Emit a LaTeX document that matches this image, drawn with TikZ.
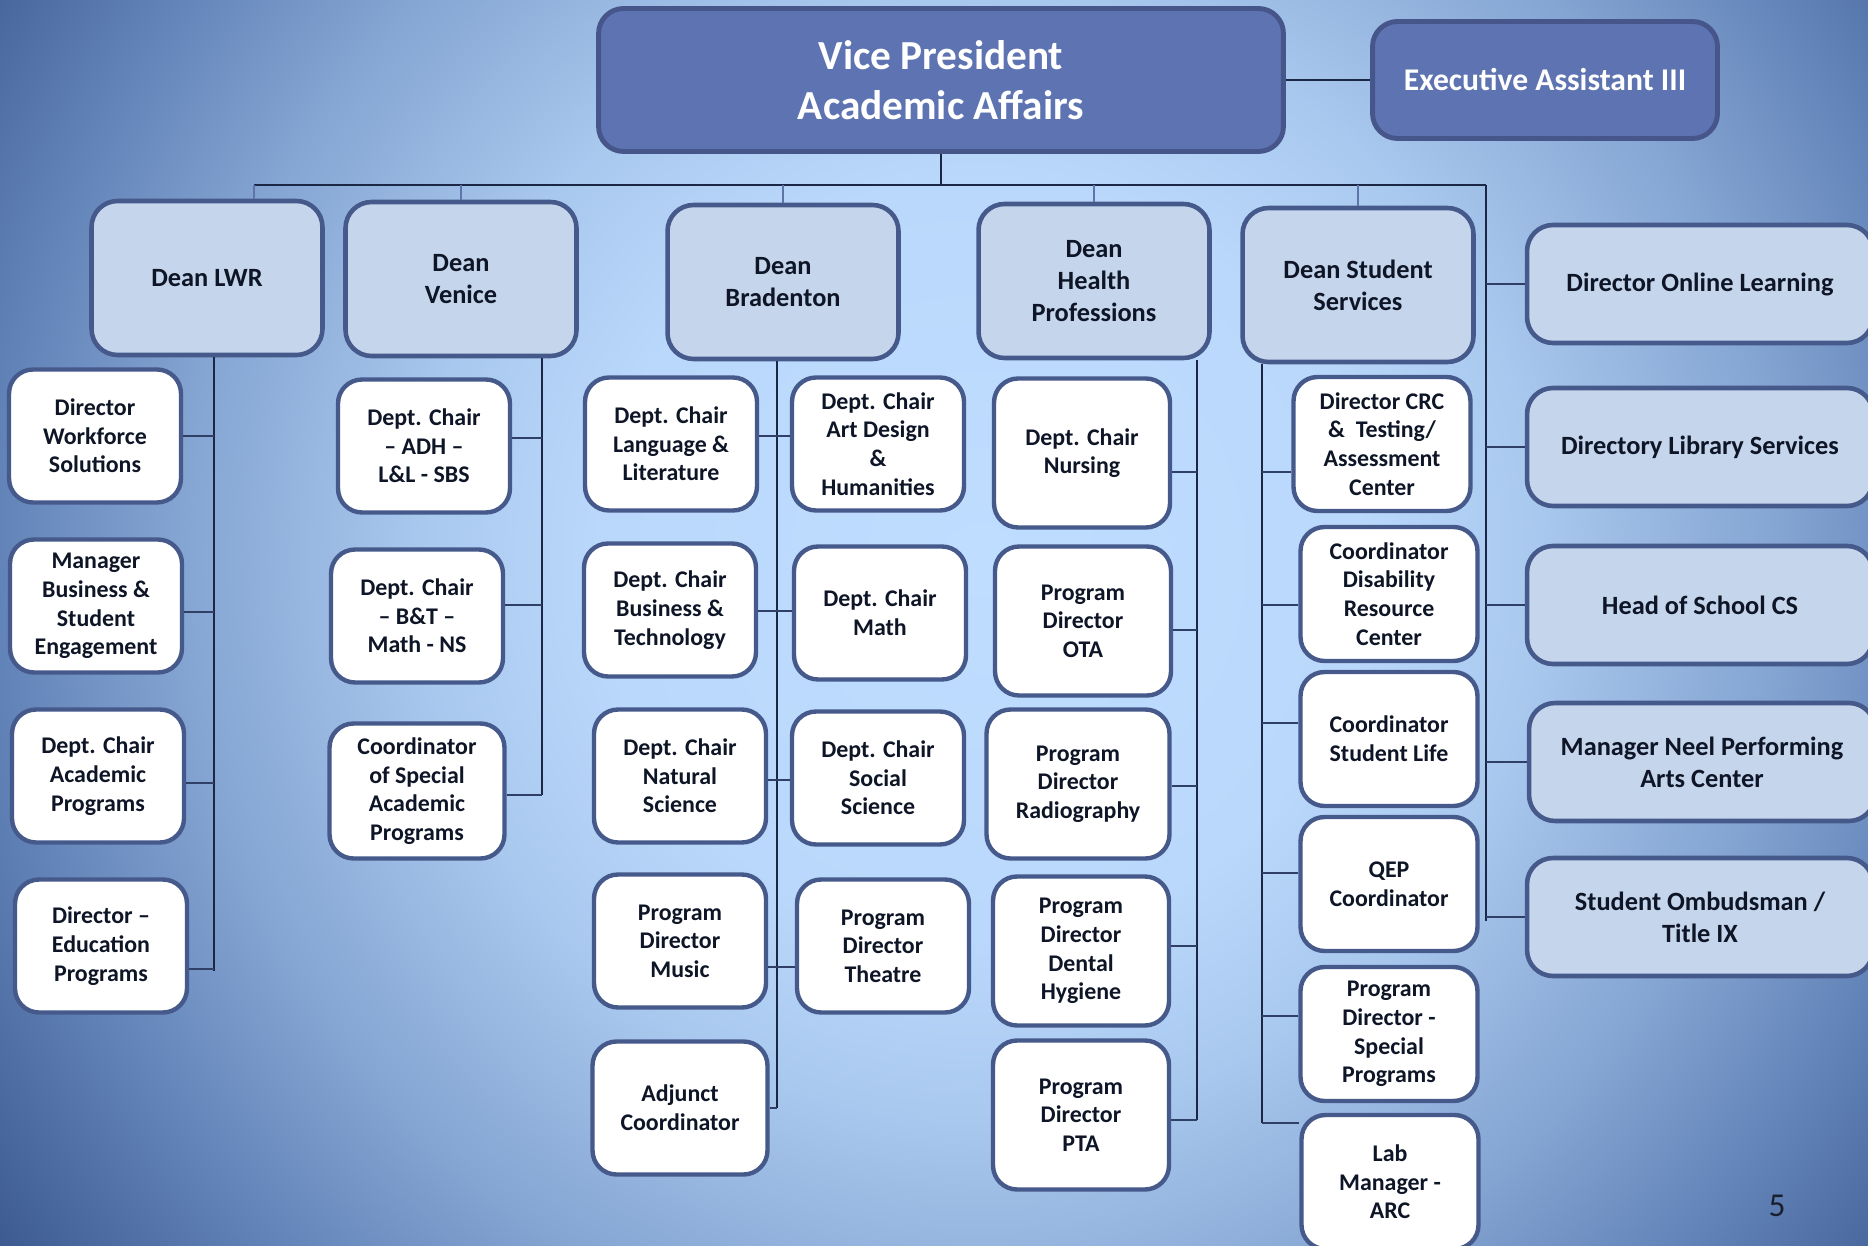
\documentclass[tikz,border=0pt]{standalone}
\usepackage{fontspec}
\setmainfont{Carlito}
\usepackage{tikz}
\usetikzlibrary{calc}
\definecolor{oc-vp}{HTML}{5E74B2}
\definecolor{oc-vpline}{HTML}{46568A}
\definecolor{oc-dean}{HTML}{C5D5EC}
\definecolor{oc-line}{HTML}{46598B}
\definecolor{oc-ink}{HTML}{0E1526}
\definecolor{oc-bus}{HTML}{1B2744}
\definecolor{oc-drop}{HTML}{5F74A8}
\definecolor{oc-tick}{HTML}{2F3F66}
\definecolor{oc-num}{HTML}{1A1F2E}
\definecolor{oc-bga}{HTML}{BEDDFF}
\definecolor{oc-bgb}{HTML}{BAD8FB}
\definecolor{oc-bgc}{HTML}{A9C8EE}
\definecolor{oc-bgd}{HTML}{84A4D2}
\definecolor{oc-bge}{HTML}{5F80B5}
\definecolor{oc-bgf}{HTML}{3C5A90}
% radii in bp at natural size (1 px of the layout = 0.567bp)
\pgfdeclareradialshading{oc-glow}{\pgfpoint{0bp}{0bp}}{color(0bp)=(oc-bga); color(215bp)=(oc-bgb); color(318bp)=(oc-bgc); color(454bp)=(oc-bgd); color(567bp)=(oc-bge); color(680bp)=(oc-bgf); color(850bp)=(oc-bgf)}

\begin{document}
\begin{tikzpicture}[x=0.02cm, y=-0.02cm,
    every node/.style={font=\bfseries, text=oc-ink, align=center},
    vpbox/.style={draw=oc-vpline, line width=2.8pt, fill=oc-vp, rounded corners=0.5cm, text=white},
    deanbox/.style={draw=oc-line, line width=2.6pt, fill=oc-dean, rounded corners=0.52cm,
        minimum width=4.62cm, minimum height=3.08cm, font=\bfseries\fontsize{15}{18.2}\selectfont},
    sidebox/.style={deanbox, minimum width=6.92cm, minimum height=2.36cm},
    unitbox/.style={draw=oc-line, line width=2.5pt, fill=white, rounded corners=0.48cm,
        minimum width=3.44cm, minimum height=2.66cm, font=\bfseries\fontsize{13.6}{16.3}\selectfont},
    healthbox/.style={unitbox, minimum width=3.52cm, minimum height=2.98cm},
    ssbox/.style={unitbox, minimum width=3.54cm, minimum height=2.68cm},
    bus/.style={draw=oc-bus, line width=1.1pt},
    drop/.style={draw=oc-drop, line width=1pt},
    tick/.style={draw=oc-tick, line width=1.1pt}]
    \useasboundingbox (0,0) rectangle (1868,1246);
    \clip (0,0) rectangle (1868,1246);
    \begin{scope}[shift={(980,560)}]
        \pgftext{\pgfuseshading{oc-glow}}
    \end{scope}

    % top
    \node[vpbox, minimum width=13.7cm, minimum height=2.86cm, font=\bfseries\fontsize{23.5}{28.5}\selectfont] (vp) at (941,80) {Vice President\\Academic Affairs};
    \node[vpbox, minimum width=6.9cm, minimum height=2.34cm, font=\bfseries\fontsize{18}{22}\selectfont] (ea) at (1545,80) {Executive Assistant III};

    % deans
    \node[deanbox] (lwr) at (207,278) {Dean LWR};
    \node[deanbox] (venice) at (461,279) {Dean\\Venice};
    \node[deanbox] (bradenton) at (783,282) {Dean\\Bradenton};
    \node[deanbox] (health) at (1094,281) {Dean\\Health\\Professions};
    \node[deanbox] (stuserv) at (1358,285) {Dean Student\\Services};

    % right column
    \node[sidebox] (online) at (1700,284) {Director Online Learning};
    \node[sidebox] (library) at (1700,447) {Directory Library Services};
    \node[sidebox] (schoolcs) at (1700,605) {Head of School CS};
    \node[sidebox] (neel) at (1702,762) {Manager Neel Performing\\Arts Center};
    \node[sidebox] (ombuds) at (1700,917) {Student Ombudsman /\\Title IX};

    % LWR
    \node[unitbox] (workforce) at (95,436) {Director\\Workforce\\Solutions};
    \node[unitbox] (business) at (96,606) {Manager\\Business \&\\Student\\Engagement};
    \node[unitbox] (academic) at (98,776) {Dept. Chair\\Academic\\Programs};
    \node[unitbox] (education) at (101,946) {Director --\\Education\\Programs};

    % Venice
    \node[unitbox] (adh) at (424,446) {Dept. Chair\\-- ADH --\\L\&L - SBS};
    \node[unitbox] (btmath) at (417,616) {Dept. Chair\\-- B\&T --\\Math - NS};
    \node[unitbox, minimum width=3.5cm, minimum height=2.7cm] (special) at (417,791) {Coordinator\\of Special\\Academic\\Programs};

    % Bradenton
    \node[unitbox] (langlit) at (671,444) {Dept. Chair\\Language \&\\Literature};
    \node[unitbox] (bustech) at (670,610) {Dept. Chair\\Business \&\\Technology};
    \node[unitbox] (natsci) at (680,776) {Dept. Chair\\Natural\\Science};
    \node[unitbox] (music) at (680,941) {Program\\Director\\Music};
    \node[unitbox, minimum width=3.5cm] (adjunct) at (680,1108) {Adjunct\\Coordinator};
    \node[unitbox] (artdesign) at (878,444) {Dept. Chair\\Art Design\\\&\\Humanities};
    \node[unitbox] (math) at (880,613) {Dept. Chair\\Math};
    \node[unitbox] (socsci) at (878,778) {Dept. Chair\\Social\\Science};
    \node[unitbox] (theatre) at (883,946) {Program\\Director\\Theatre};

    % Health Professions
    \node[healthbox] (nursing) at (1082,453) {Dept. Chair\\Nursing};
    \node[healthbox] (ota) at (1083,621) {Program\\Director\\OTA};
    \node[healthbox, minimum width=3.66cm] (radiography) at (1078,784) {Program\\Director\\Radiography};
    \node[healthbox] (dental) at (1081,951) {Program\\Director\\Dental\\Hygiene};
    \node[healthbox] (pta) at (1081,1115) {Program\\Director\\PTA};

    % Student Services
    \node[ssbox] (crc) at (1382,444) {Director CRC\\\&~ Testing/\\Assessment\\Center};
    \node[ssbox] (disability) at (1389,594) {Coordinator\\Disability\\Resource\\Center};
    \node[ssbox] (stulife) at (1389,739) {Coordinator\\Student Life};
    \node[ssbox] (qep) at (1389,884) {QEP\\Coordinator};
    \node[ssbox] (specprog) at (1389,1034) {Program\\Director -\\Special\\Programs};
    \node[ssbox] (labmgr) at (1390,1182) {Lab\\Manager -\\ARC};

    \node[font=\fontsize{19}{22}\selectfont, text=oc-num] (pagenum) at (1777,1206) {5};

    % connectors
    \coordinate (busL) at (254,185);
    \coordinate (busR) at (1486,185);
    \draw[bus] (vp.east) -- (ea.west);
    \draw[bus] (vp.south) -- (vp.south |- busL);
    \draw[bus] (busL) -- (busR);
    \draw[drop] (busL) -- (busL |- lwr.north);
    \foreach \n in {venice,bradenton,health,stuserv}
        \draw[drop] (\n.north) -- (\n.north |- busL);

    \coordinate (sideEnd) at (1486,921);
    \draw[bus] (busR) -- (sideEnd);
    \foreach \n in {online,library,schoolcs,neel,ombuds}
        \draw[tick] (\n.west) -- (\n.west -| busR);

    \coordinate (lwrEnd) at (214,971);
    \draw[bus] (lwr.south -| lwrEnd) -- (lwrEnd);
    \foreach \n/\d in {workforce/0,business/6,academic/7,education/23}
        \draw[tick] (\n.east) ++(0,\d) coordinate (t) -- (t -| lwrEnd);

    \coordinate (venEnd) at (542,795);
    \draw[bus] (venice.south -| venEnd) -- (venEnd);
    \foreach \n/\d in {adh/-8,btmath/-11,special/4}
        \draw[tick] (\n.east) ++(0,\d) coordinate (t) -- (t -| venEnd);

    \coordinate (braEnd) at (777,1108);
    \draw[bus] (bradenton.south -| braEnd) -- (braEnd);
    \foreach \l/\r/\d in {langlit/artdesign/-8,bustech/math/1,natsci/socsci/4,music/theatre/26}
        \draw[tick] (\l.east) ++(0,\d) coordinate (t) -- (t -| \r.west);
    \draw[tick] (adjunct.east) -- (adjunct.east -| braEnd);

    \coordinate (heaEnd) at (1197,1120);
    \draw[bus] (health.south -| heaEnd) -- (heaEnd);
    \foreach \n/\d in {nursing/19,ota/9,radiography/2,dental/-5,pta/5}
        \draw[tick] (\n.east) ++(0,\d) coordinate (t) -- (t -| heaEnd);

    \coordinate (ssEnd) at (1262,1123);
    \draw[bus] (stuserv.south -| ssEnd) -- (ssEnd);
    \foreach \n/\d in {crc/28,disability/11,stulife/-16,qep/-11,specprog/-18}
        \draw[tick] (\n.west) ++(0,\d) coordinate (t) -- (t -| ssEnd);
    \draw[tick] (ssEnd) -- (ssEnd -| labmgr.west);
\end{tikzpicture}
\end{document}
